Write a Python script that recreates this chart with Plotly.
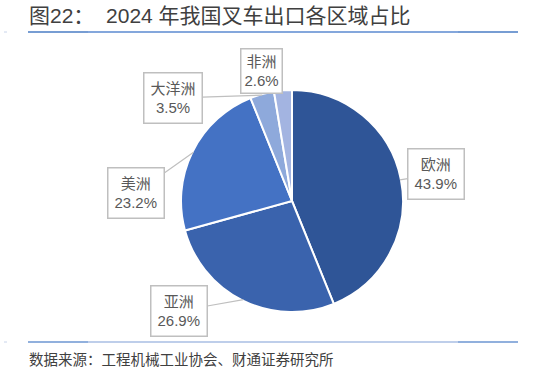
import math
import plotly.graph_objects as go

# ---- data ----
regions = ["欧洲", "亚洲", "美洲", "大洋洲", "非洲"]
shares = [43.9, 26.9, 23.2, 3.5, 2.6]
colors = ["#2F5597", "#3A63AD", "#4472C4", "#8EA9DB", "#A3B4E1"]
title_text = "图22：  2024 年我国叉车出口各区域占比"
source_text = "数据来源：工程机械工业协会、财通证券研究所"

# ---- layout / style ----
W, H = 533, 372
cx, cy, R = 292, 201, 111          # pie centre & radius in px
box_centers = {                     # label box centres in px
    "欧洲": (436, 174),
    "亚洲": (179, 311),
    "美洲": (136, 193),
    "大洋洲": (173, 98),
    "非洲": (261, 71),
}
show_arrow = {"欧洲": True, "亚洲": True, "美洲": True, "大洋洲": True, "非洲": False}
FONT = "Liberation Sans, Noto Sans CJK SC, sans-serif"
CJK = "Noto Sans CJK SC, sans-serif"


def px2paper(x, y):
    return x / W, 1 - y / H


fig = go.Figure()
fig.add_trace(go.Pie(
    labels=regions, values=shares, sort=False, direction="clockwise", rotation=0,
    marker=dict(colors=colors, line=dict(color="white", width=2)),
    textinfo="none", hoverinfo="label+percent", showlegend=False,
    domain=dict(x=[(cx - R) / W, (cx + R) / W], y=[1 - (cy + R) / H, 1 - (cy - R) / H]),
))

annotations = []
total = sum(shares)
cum = 0.0
for name, v in zip(regions, shares):
    mid = (cum + v / 2) / total * 2 * math.pi
    cum += v
    tx = cx + R * 0.99 * math.sin(mid)
    ty = cy - R * 0.99 * math.cos(mid)
    bx, by = box_centers[name]
    pct = f"{v / total * 100:.1f}%"
    txt = f"{name}<br>{pct}"
    if show_arrow[name]:
        x, y = px2paper(tx, ty)
        annotations.append(dict(
            x=x, y=y, xref="paper", yref="paper",
            ax=bx - tx, ay=by - ty, axref="pixel", ayref="pixel",
            text=txt, showarrow=True, arrowhead=0, arrowwidth=1.2, arrowcolor="#BFBFBF",
            font=dict(family=FONT, size=15, color="#595959"),
            bordercolor="#BFBFBF", borderwidth=1.5, borderpad=6, bgcolor="white",
            align="center",
        ))
    else:
        x, y = px2paper(bx, by)
        annotations.append(dict(
            x=x, y=y, xref="paper", yref="paper", xanchor="center", yanchor="middle",
            text=txt, showarrow=False,
            font=dict(family=FONT, size=15, color="#595959"),
            bordercolor="#BFBFBF", borderwidth=1.5, borderpad=3, bgcolor="white",
            align="center",
        ))

tx_, ty_ = px2paper(27, 16)
annotations.append(dict(x=tx_, y=ty_, xref="paper", yref="paper", xanchor="left", yanchor="middle",
                        text=title_text, showarrow=False,
                        font=dict(family=FONT, size=21, color="#404040")))
sx_, sy_ = px2paper(27, 358)
annotations.append(dict(x=sx_, y=sy_, xref="paper", yref="paper", xanchor="left", yanchor="middle",
                        text=source_text, showarrow=False,
                        font=dict(family=CJK, size=14.5, color="#404040")))

shapes = []


def hline(x0, x1, y, color, width=1.5):
    a0, b = px2paper(x0, y)
    a1, _ = px2paper(x1, y)
    shapes.append(dict(type="line", xref="paper", yref="paper", x0=a0, x1=a1, y0=b, y1=b,
                       line=dict(color=color, width=width)))


hline(28, 88, 32, "#4A7CC4")
hline(88, 458, 32, "#5B8AD0")
hline(458, 518, 32, "#4A7CC4")
hline(28, 88, 342, "#6D96D2")
hline(88, 458, 342, "#A9BEE3")
hline(458, 518, 342, "#6D96D2")
hline(4, 7, 32, "#C8D4EA", 1)
hline(4, 7, 342, "#C8D4EA", 1)

fig.update_layout(
    width=W, height=H, margin=dict(l=0, r=0, t=0, b=0),
    paper_bgcolor="white", plot_bgcolor="white",
    annotations=annotations, shapes=shapes,
)
fig.write_html("out.html")
